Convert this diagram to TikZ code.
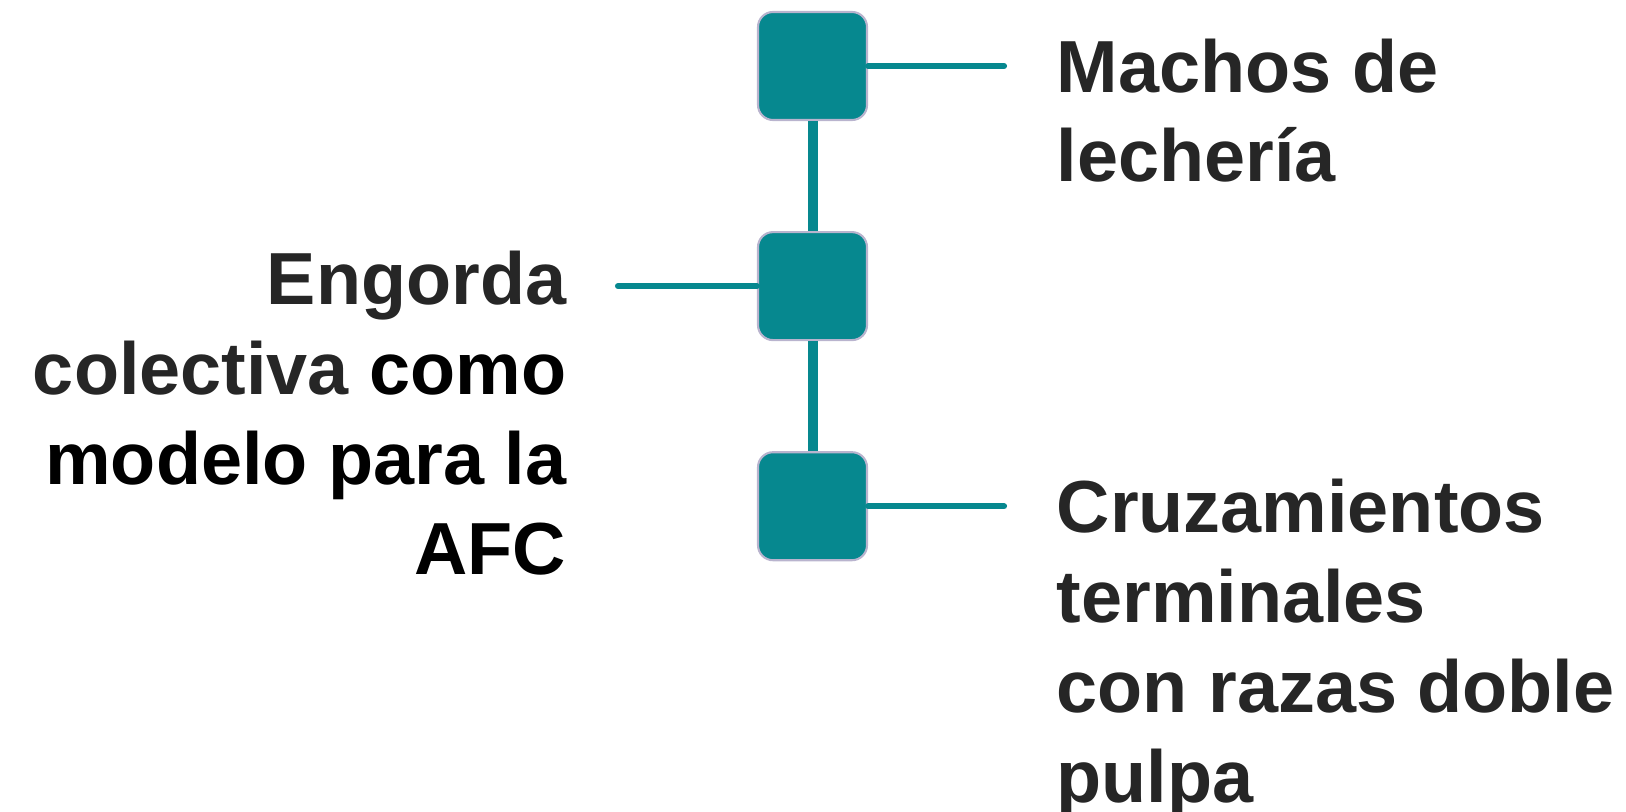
\documentclass[tikz,border=0pt]{standalone}
\usepackage{fontspec}
\setmainfont{Liberation Sans}
\usetikzlibrary{positioning}

\definecolor{teal}{RGB}{6,136,143}
\definecolor{rim}{RGB}{185,180,206}
\definecolor{ink}{RGB}{38,38,38}

\begin{document}
\begin{tikzpicture}[
      font=\fontsize{21}{25.6}\selectfont\bfseries,
      node distance=1.1cm,
      square/.style={rectangle, draw=rim, line width=0.6pt, fill=teal, rounded corners=0.15cm, minimum width=1.09cm, minimum height=1.08cm, inner sep=0pt},
      label/.style={text=ink, inner sep=0pt},
      stem/.style={teal, line width=0.1cm},
      twig/.style={teal, line width=0.06cm, line cap=round}
    ]
      \useasboundingbox (0,0) rectangle (16.26,8.11);

      \node (top) [square] at (8.125,7.45) {};
      \node (mid) [square, below=of top] {};
      \node (low) [square, below=of mid] {};

      \coordinate (topend) at ([xshift=1.36cm]top.east);
      \coordinate (midend) at ([xshift=-1.39cm]mid.west);
      \coordinate (lowend) at ([xshift=1.36cm]low.east);

      \node (machos) [label, align=left, right=1.88cm of top.east, anchor=base west, yshift=-1.16cm] {Machos de\\lechería};
      \node (engorda) [label, align=right, left=1.9cm of mid.west, anchor=base east, yshift=-2.88cm] {Engorda\\colectiva {\color{black}como}\\{\color{black}modelo para la}\\{\color{black}AFC}};
      \node (cruza) [label, align=left, right=1.88cm of low.east, anchor=base west, yshift=-2.96cm] {Cruzamientos\\terminales\\con razas doble\\pulpa};

      \draw [stem] (top) -- (mid);
      \draw [stem] (mid) -- (low);
      \draw [twig] (top.east) -- (topend);
      \draw [twig] (mid.west) -- (midend);
      \draw [twig] (low.east) -- (lowend);
    \end{tikzpicture}
\end{document}
